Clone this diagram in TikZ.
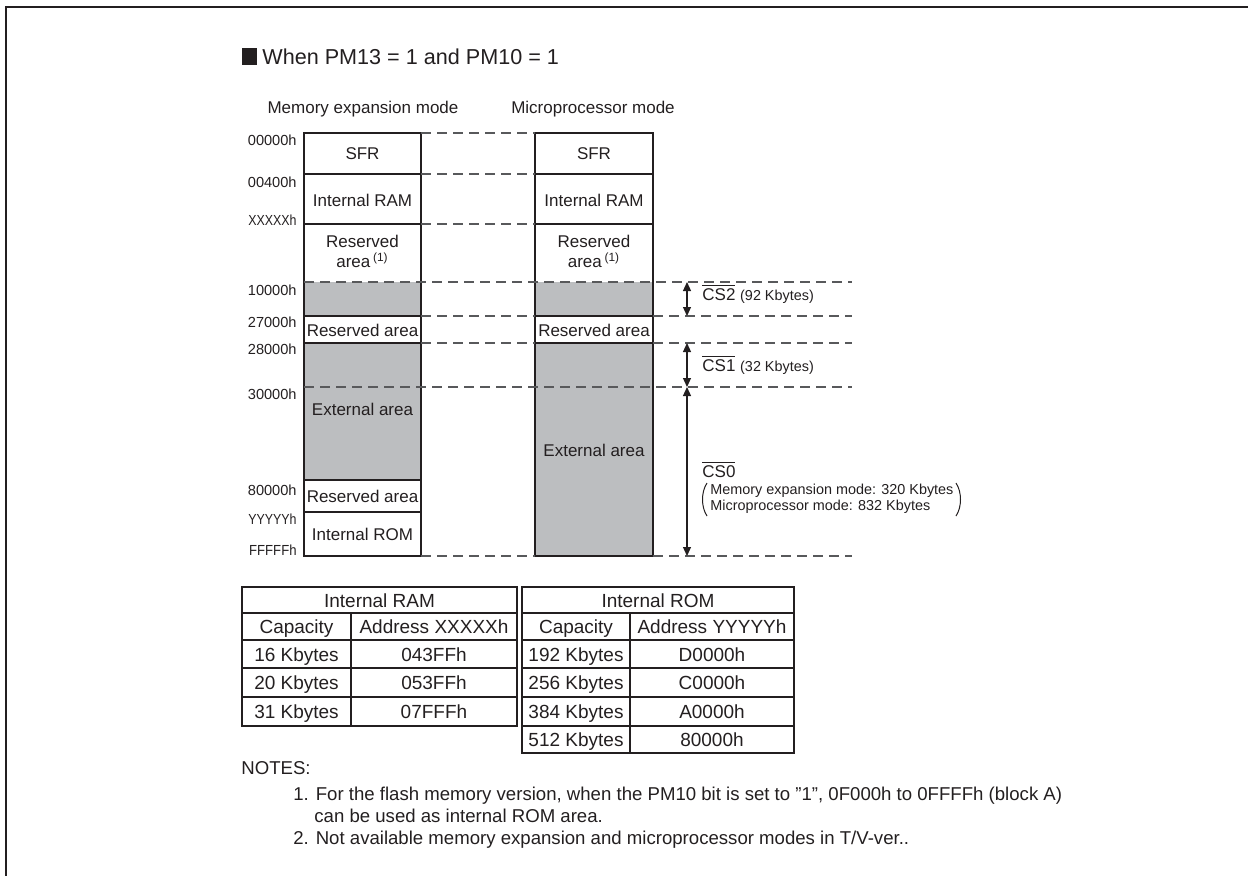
\documentclass[tikz,border=0pt]{standalone}
\usepackage{fontspec}
\setmainfont{Liberation Sans}
\usepackage{graphicx}
\usetikzlibrary{arrows.meta, positioning}
\definecolor{InkBlack}{HTML}{231F20}
\definecolor{AreaGray}{HTML}{BCBEC0}
\definecolor{DashGray}{HTML}{58595B}
\tikzset{
    % Text inside a memory block
    blocktext/.style={
        inner sep=0pt,
        align=center,
        text=InkBlack,
        font=\fontsize{8.5}{10}\selectfont
    },
    % Address label left of the map
    addr/.style={
        anchor=east,
        inner sep=0pt,
        text=InkBlack,
        font=\fontsize{7.3}{8}\selectfont
    },
    % Solid block outline
    memline/.style={
        draw=InkBlack,
        line width=0.9pt
    },
    % Dashed boundary line
    bound/.style={
        draw=DashGray,
        line width=0.55pt,
        dash pattern=on 5pt off 3pt
    },
    % Chip select range arrow
    csarrow/.style={
        {Triangle[length=4.5pt,width=4pt]}-{Triangle[length=4.5pt,width=4pt]},
        line width=0.6pt,
        draw=InkBlack
    },
    % Chip select label
    cslabel/.style={
        anchor=base west,
        inner sep=0pt,
        text=InkBlack,
        font=\fontsize{8.5}{10}\selectfont
    },
    % Table cell
    cell/.style={
        anchor=base,
        inner sep=0pt,
        text=InkBlack,
        font=\fontsize{9.5}{11}\selectfont
    },
    % Table lines
    tabouter/.style={draw=InkBlack, line width=1pt},
    tabinner/.style={draw=InkBlack, line width=0.7pt},
    % Notes text
    notetext/.style={
        anchor=base west,
        inner sep=0pt,
        text=InkBlack,
        font=\fontsize{9.3}{11}\selectfont
    }
}

\begin{document}
\begin{tikzpicture}[x=0.5pt, y=-0.5pt]
    \useasboundingbox (0,0) rectangle (1248,875);

    % Frame
    \draw[InkBlack, line width=1.25pt] (6,885) -- (6,7) -- (1260,7);

    % Title
    \fill[InkBlack] (242,48) rectangle (257,65);
    \node (title) [anchor=west, inner sep=0pt, text=InkBlack, font=\fontsize{10.8}{13}\selectfont] at (262,57) {When PM13 = 1 and PM10 = 1};

    % Column headings
    \node (headexp) [blocktext] at (363,109) {Memory expansion mode};
    \node (headmic) [blocktext] at (593,109) {Microprocessor mode};

    % External areas
    \fill[AreaGray] (304,282) rectangle (421,316);
    \fill[AreaGray] (304,343) rectangle (421,480);
    \fill[AreaGray] (535,282) rectangle (653,316);
    \fill[AreaGray] (535,343) rectangle (653,556);

    % Memory expansion mode map
    \draw[memline] (304,133) rectangle (421,556);
    \draw[memline] (304,174) -- (421,174);
    \draw[memline] (304,224) -- (421,224);
    \draw[memline] (304,316) -- (421,316);
    \draw[memline] (304,343) -- (421,343);
    \draw[memline] (304,480) -- (421,480);
    \draw[memline] (304,512) -- (421,512);

    % Microprocessor mode map
    \draw[memline] (535,133) rectangle (653,556);
    \draw[memline] (535,174) -- (653,174);
    \draw[memline] (535,224) -- (653,224);
    \draw[memline] (535,316) -- (653,316);
    \draw[memline] (535,343) -- (653,343);

    % Dashed boundaries
    \draw[bound] (421,133) -- (535,133);
    \draw[bound] (421,174) -- (535,174);
    \draw[bound] (421,224) -- (535,224);
    \draw[bound] (304,282) -- (852,282);
    \draw[bound] (421,316) -- (535,316);
    \draw[bound] (653,316) -- (852,316);
    \draw[bound] (421,343) -- (535,343);
    \draw[bound] (653,343) -- (852,343);
    \draw[bound] (304,387) -- (852,387);
    \draw[bound] (421,556) -- (535,556);
    \draw[bound] (653,556) -- (852,556);

    % Block texts, left
    \node (sfrA) [blocktext] at (362.5,154) {SFR};
    \node (ramA) [blocktext] at (362.5,200) {Internal RAM};
    \node (rsvA) [blocktext] at (362.5,251) {Reserved\\ area\,\textsuperscript{(1)}};
    \node (rsvB) [blocktext] at (362.5,330) {Reserved area};
    \node (extA) [blocktext] at (362.5,409) {External area};
    \node (rsvC) [blocktext] at (362.5,496) {Reserved area};
    \node (romA) [blocktext] at (362.5,534) {Internal ROM};

    % Block texts, right
    \node (sfrM) [blocktext] at (594,154) {SFR};
    \node (ramM) [blocktext] at (594,200) {Internal RAM};
    \node (rsvM) [blocktext] at (594,251) {Reserved\\ area\,\textsuperscript{(1)}};
    \node (rsvN) [blocktext] at (594,330) {Reserved area};
    \node (extM) [blocktext] at (594,450) {External area};

    % Addresses
    \node (a00000) [addr] at (297,140) {00000h};
    \node (a00400) [addr] at (297,182) {00400h};
    \node (axxxxx) [addr] at (297,220) {\scalebox{0.85}[1]{XXXXXh}};
    \node (a10000) [addr] at (297,290) {10000h};
    \node (a27000) [addr] at (297,322) {27000h};
    \node (a28000) [addr] at (297,349) {28000h};
    \node (a30000) [addr] at (297,394) {30000h};
    \node (a80000) [addr] at (297,490) {80000h};
    \node (ayyyyy) [addr] at (297,519) {\scalebox{0.85}[1]{YYYYYh}};
    \node (afffff) [addr] at (297,550) {\scalebox{0.9}[1]{FFFFFh}};

    % Chip select ranges
    \coordinate (cs2top) at (687,282);
    \coordinate (cs2bot) at (687,316);
    \coordinate (cs1top) at (687,343);
    \coordinate (cs1bot) at (687,387);
    \coordinate (cs0top) at (687,387);
    \coordinate (cs0bot) at (687,556);
    \draw[csarrow] (cs2top) -- (cs2bot);
    \draw[csarrow] (cs1top) -- (cs1bot);
    \draw[csarrow] (cs0top) -- (cs0bot);

    \node (cs2lab) [cslabel] at (702,300) {$\overline{\hbox{CS2}}$ {\fontsize{7.2}{8}\selectfont(92 Kbytes)}};
    \node (cs1lab) [cslabel] at (702,371) {$\overline{\hbox{CS1}}$ {\fontsize{7.2}{8}\selectfont(32 Kbytes)}};
    \node (cs0lab) [cslabel] at (702,477) {$\overline{\hbox{CS0}}$};
    \node (cs0note) [anchor=north west, inner sep=0pt, align=left, text=InkBlack, font=\fontsize{7.2}{8}\selectfont] at (710,484) {Memory expansion mode: 320 Kbytes\\ Microprocessor mode: 832 Kbytes};
    \draw[InkBlack, line width=0.5pt] (707,483) .. controls (701,492) and (701,507) .. (707,516);
    \draw[InkBlack, line width=0.5pt] (956,483) .. controls (962,492) and (962,507) .. (956,516);

    % Internal RAM table
    \draw[tabinner] (242,613) -- (517,613);
    \draw[tabinner] (242,640) -- (517,640);
    \draw[tabinner] (242,668) -- (517,668);
    \draw[tabinner] (242,697) -- (517,697);
    \draw[tabinner] (351,613) -- (351,726);
    \draw[tabouter] (242,587) rectangle (517,726);
    \node (ramhead) [cell] at (379.5,607) {Internal RAM};
    \node (ramcap) [cell] at (296.5,633) {Capacity};
    \node (ramadr) [cell] at (434,633) {Address XXXXXh};
    \node (ram16) [cell] at (296.5,661) {16 Kbytes};
    \node (ram16a) [cell] at (434,661) {043FFh};
    \node (ram20) [cell] at (296.5,689) {20 Kbytes};
    \node (ram20a) [cell] at (434,689) {053FFh};
    \node (ram31) [cell] at (296.5,718) {31 Kbytes};
    \node (ram31a) [cell] at (434,718) {07FFFh};

    % Internal ROM table
    \draw[tabinner] (522,613) -- (794,613);
    \draw[tabinner] (522,640) -- (794,640);
    \draw[tabinner] (522,668) -- (794,668);
    \draw[tabinner] (522,697) -- (794,697);
    \draw[tabinner] (522,726) -- (794,726);
    \draw[tabinner] (630,613) -- (630,753);
    \draw[tabouter] (522,587) rectangle (794,753);
    \node (romhead) [cell] at (658,607) {Internal ROM};
    \node (romcap) [cell] at (576,633) {Capacity};
    \node (romadr) [cell] at (712,633) {Address YYYYYh};
    \node (rom192) [cell] at (576,661) {192 Kbytes};
    \node (rom192a) [cell] at (712,661) {D0000h};
    \node (rom256) [cell] at (576,689) {256 Kbytes};
    \node (rom256a) [cell] at (712,689) {C0000h};
    \node (rom384) [cell] at (576,718) {384 Kbytes};
    \node (rom384a) [cell] at (712,718) {A0000h};
    \node (rom512) [cell] at (576,746) {512 Kbytes};
    \node (rom512a) [cell] at (712,746) {80000h};

    % Notes
    \node (notes) [notetext] at (241,774) {NOTES:};
    \node (note1) [notetext] at (293,800) {1. For the flash memory version, when the PM10 bit is set to \symbol{34}1\symbol{34}, 0F000h to 0FFFFh (block A)};
    \node (note1b) [notetext] at (314,822) {can be used as internal ROM area.};
    \node (note2) [notetext] at (293,844) {2. Not available memory expansion and microprocessor modes in T/V-ver..};
\end{tikzpicture}
\end{document}
